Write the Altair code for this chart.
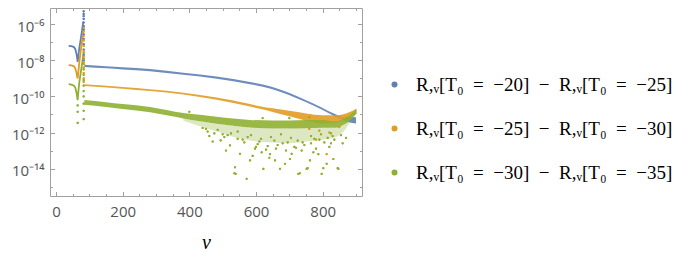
import altair as alt
import pandas as pd

# ---------------- data (log10 of the plotted values) -------------
SERIES = [
    "R,ᵥ[T₀\u2002=\u2002−20]\u2002−\u2002R,ᵥ[T₀\u2002=\u2002−25]",
    "R,ᵥ[T₀\u2002=\u2002−25]\u2002−\u2002R,ᵥ[T₀\u2002=\u2002−30]",
    "R,ᵥ[T₀\u2002=\u2002−30]\u2002−\u2002R,ᵥ[T₀\u2002=\u2002−35]",
]
COLORS = ["#5E81B5", "#E19C24", "#8FB032"]

# low-v segment (v < 85)
LEFT_V = [38, 46, 54, 58, 61, 63, 65, 67, 70, 74, 78, 82]
LEFT_BLUE = [-7.19, -7.21, -7.26, -7.38, -7.60, -7.80, -8.08, -7.75, -7.30, -6.85, -6.35, -5.85]
LEFT_ORANGE = [-8.26, -8.28, -8.33, -8.45, -8.65, -8.85, -9.00, -8.65, -8.10, -7.50, -6.95, -6.40]
LEFT_GREEN = [-9.32, -9.34, -9.40, -9.52, -9.75, -9.95, -10.20, -9.75, -9.20, -8.70, -8.20, -7.70]

# vertical column of dots at v ~ 83
SPIKE_V = 83
SPIKE_BLUE = [-5.28, -5.42, -5.55, -5.70, -5.90, -6.10, -6.30, -6.55, -6.80, -7.10, -7.40, -7.70, -8.00]
SPIKE_ORANGE = [-6.20, -6.40, -6.65, -6.90, -7.20, -7.50, -7.80, -8.10, -8.40, -8.70, -9.00, -9.20]
SPIKE_GREEN = [-7.60, -7.90, -8.20, -8.50, -8.80, -9.10, -9.40, -9.70, -10.00, -10.40, -10.80, -11.26]

# main dense bands (upper / lower edge)
BLUE_V = [85, 150, 200, 282, 382, 482, 582, 647, 697, 747, 797, 837, 862, 880, 900]
BLUE_HI = [-8.24, -8.32, -8.38, -8.48, -8.68, -8.90, -9.20, -9.46, -9.78, -10.18, -10.61, -10.97, -11.12, -11.12, -11.16]
BLUE_LO = [-8.36, -8.44, -8.50, -8.60, -8.80, -9.02, -9.32, -9.58, -9.90, -10.30, -10.73, -11.11, -11.32, -11.45, -11.50]

ORANGE_V = [85, 200, 282, 382, 482, 582, 612, 650, 700, 750, 800, 840, 870, 900]
ORANGE_HI = [-9.32, -9.47, -9.60, -9.79, -10.06, -10.42, -10.54, -10.66, -10.80, -10.94, -11.04, -11.04, -10.94, -10.70]
ORANGE_LO = [-9.42, -9.57, -9.70, -9.89, -10.18, -10.56, -10.68, -10.86, -11.10, -11.35, -11.50, -11.45, -11.25, -10.98]

GREEN_V = [85, 150, 200, 282, 382, 432, 482, 532, 582, 650, 700, 750, 800, 840, 860, 880, 902]
GREEN_HI = [-10.20, -10.32, -10.42, -10.58, -10.92, -11.02, -11.12, -11.22, -11.30, -11.33, -11.33, -11.30, -11.30, -11.38, -11.28, -11.05, -10.68]
GREEN_LO = [-10.46, -10.58, -10.70, -10.88, -11.22, -11.38, -11.52, -11.62, -11.72, -11.78, -11.78, -11.76, -11.74, -11.74, -11.60, -11.36, -10.95]

# sparse lower fringe of the green cloud
HALO_V = [382, 432, 482, 532, 582, 650, 700, 750, 800, 840, 860, 880]
HALO_HI = [-11.22, -11.38, -11.52, -11.62, -11.72, -11.78, -11.78, -11.76, -11.74, -11.74, -11.60, -11.36]
HALO_LO = [-11.35, -11.65, -11.95, -12.25, -12.45, -12.55, -12.60, -12.50, -12.40, -12.25, -12.00, -11.50]

# isolated dots
ORANGE_OUT_V = [780, 812, 820, 760, 850, 790, 730]
ORANGE_OUT = [-12.40, -13.20, -12.00, -11.80, -11.70, -11.90, -11.55]
GREEN_OUT_V = [65, 65, 65, 494, 522, 510, 537, 539, 572, 552, 582, 597, 622, 672, 702, 687, 727, 752,
               762, 797, 812, 847, 642, 657, 787, 832, 707, 737, 617, 772, 535, 732, 755, 802, 845,
               460, 470, 600, 630, 660, 690, 720, 780, 820, 860, 870, 590, 640, 560, 610, 680, 740,
               790, 830, 500, 450, 620, 700, 760, 400,
               440, 455, 475, 505, 515, 545, 565, 575, 605, 615, 635, 655, 665, 695, 715, 725, 745,
               765, 775, 805, 815, 825, 835, 855, 485, 525, 585, 645, 705, 765, 825, 545, 675, 795]
GREEN_OUT = [-10.50, -10.85, -11.47, -12.44, -12.72, -13.00, -13.93, -14.30, -14.57, -13.18, -13.55,
             -12.90, -14.02, -14.02, -13.47, -13.74, -14.30, -14.02, -13.55, -14.30, -13.74, -14.02,
             -13.20, -13.55, -13.20, -13.47, -13.18, -13.00, -13.10, -13.10, -14.26, -14.26, -13.98,
             -13.98, -13.98, -12.20, -12.50, -12.80, -12.95, -12.90, -13.00, -12.85, -12.90, -12.80,
             -12.60, -12.30, -13.30, -13.40, -12.40, -12.50, -12.60, -12.55, -12.40, -12.20, -12.10,
             -11.80, -11.20, -11.20, -11.15, -10.85,
             -11.75, -11.95, -12.05, -12.25, -12.15, -12.35, -12.55, -12.25, -12.65, -12.35, -12.75,
             -12.45, -12.70, -12.55, -12.80, -12.45, -12.70, -12.60, -12.35, -12.55, -12.30, -12.60,
             -12.40, -12.15, -11.85, -12.05, -12.15, -12.25, -12.30, -12.20, -12.05, -11.95, -12.10,
             -12.10]

X_TICKS = [0, 200, 400, 600, 800]
X_MINOR = [0, 50, 100, 150, 200, 250, 300, 350, 400, 450, 500, 550, 600, 650, 700, 750, 800, 850, 900]
Y_EXP = [-6, -8, -10, -12, -14]
Y_LABELS = ["10⁻⁶", "10⁻⁸", "10⁻¹⁰", "10⁻¹²", "10⁻¹⁴"]
Y_MINOR_EXP = [-6, -7, -8, -9, -10, -11, -12, -13, -14, -15]

# ---------------- tables ----------------
def pw(e):
    return 10.0 ** e

left_rows, band_rows, dot_rows = [], [], []
for s, vals in zip(SERIES, [LEFT_BLUE, LEFT_ORANGE, LEFT_GREEN]):
    for v, e in zip(LEFT_V, vals):
        left_rows.append({"v": v, "r": pw(e), "s": s})
for s, vs, hi, lo in zip(SERIES, [BLUE_V, ORANGE_V, GREEN_V], [BLUE_HI, ORANGE_HI, GREEN_HI],
                         [BLUE_LO, ORANGE_LO, GREEN_LO]):
    for v, a, b in zip(vs, hi, lo):
        band_rows.append({"v": v, "hi": pw(a), "lo": pw(b), "s": s})
halo_rows = [{"v": v, "hi": pw(a), "lo": pw(b), "s": SERIES[2]} for v, a, b in zip(HALO_V, HALO_HI, HALO_LO)]
for s, vals in zip(SERIES, [SPIKE_BLUE, SPIKE_ORANGE, SPIKE_GREEN]):
    for e in vals:
        dot_rows.append({"v": SPIKE_V, "r": pw(e), "s": s})
for v, e in zip(ORANGE_OUT_V, ORANGE_OUT):
    dot_rows.append({"v": v, "r": pw(e), "s": SERIES[1]})
for v, e in zip(GREEN_OUT_V, GREEN_OUT):
    dot_rows.append({"v": v, "r": pw(e), "s": SERIES[2]})

left_df = pd.DataFrame(left_rows)
band_df = pd.DataFrame(band_rows)
halo_df = pd.DataFrame(halo_rows)
dot_df = pd.DataFrame(dot_rows)
dummy = pd.DataFrame({"v": [100], "r": [1e-10]})

# ---------------- scales & axes ----------------
W, H = 312, 188
FRAME = "#a0a0a0"
LABEL = "#555555"
xs = alt.Scale(domain=[-18, 918], nice=False, zero=False)
ys = alt.Scale(type="log", domain=[pw(-15.522), pw(-5.094)], nice=False)
cs = alt.Scale(domain=SERIES, range=COLORS)

label_expr = " : ".join(
    f"datum.value > {pw(e - 0.5):.4e} ? '{lab}'" for e, lab in zip(Y_EXP, Y_LABELS)
) + " : ''"

ax_x = alt.Axis(orient="bottom", values=X_TICKS, ticks=False, tickSize=0, domain=False, grid=False,
                labelFont="Open Sans", labelFontSize=15, labelColor=LABEL, labelPadding=8,
                labelFlush=False, title="v", titleFont="Liberation Serif", titleFontStyle="italic",
                titleFontWeight="normal", titleFontSize=20, titleColor="black",
                titleBaseline="alphabetic", titleY=52)
ax_y = alt.Axis(orient="left", values=[pw(e) for e in Y_EXP], labelExpr=label_expr, ticks=False,
                tickSize=0, domain=False, grid=False, labelFont="Open Sans", labelFontSize=15,
                labelColor=LABEL, labelPadding=6, labelFlush=False, labelOffset=2, title=None)

x_test = "datum.value % 200 === 0"
y_test = "abs(round(log(datum.value) / LN10)) % 2 === 0"


def tick_axis(orient, offset, values, test):
    return alt.Axis(orient=orient, offset=offset, values=values, labels=False, domain=False,
                    grid=False, title=None, ticks=True, tickColor=FRAME, tickWidth=1,
                    tickSize={"condition": {"test": test, "value": 4.5}, "value": 2.5})


y_minor_vals = [pw(e) for e in Y_MINOR_EXP]
legend = alt.Legend(
    title=None, orient="none", legendX=335, legendY=67, symbolType="circle",
    symbolSize=36, symbolStrokeWidth=0, labelFont="Liberation Serif", labelFontSize=19,
    labelFontWeight="normal", labelColor="black", rowPadding=24, labelOffset=12, padding=0,
    labelLimit=400)

# ---------------- layers ----------------
# first layer carries the axes with labels and the legend
dots_first = alt.Chart(dot_df).mark_circle(size=5, opacity=1).encode(
    x=alt.X("v:Q", scale=xs, axis=ax_x),
    y=alt.Y("r:Q", scale=ys, axis=ax_y),
    color=alt.Color("s:N", scale=cs, legend=legend),
)
lines = alt.Chart(left_df).mark_line(strokeWidth=1.8).encode(
    x=alt.X("v:Q", scale=xs, axis=None),
    y=alt.Y("r:Q", scale=ys, axis=None),
    color=alt.Color("s:N", scale=cs, legend=None),
    detail="s:N",
)
bands = alt.Chart(band_df).mark_area(interpolate="monotone", opacity=0.9).encode(
    x=alt.X("v:Q", scale=xs, axis=None),
    y=alt.Y("lo:Q", scale=ys, axis=None),
    y2="hi:Q",
    color=alt.Color("s:N", scale=cs, legend=None),
)
halo = alt.Chart(halo_df).mark_area(interpolate="monotone", opacity=0.3).encode(
    x=alt.X("v:Q", scale=xs, axis=None),
    y=alt.Y("lo:Q", scale=ys, axis=None),
    y2="hi:Q",
    color=alt.Color("s:N", scale=cs, legend=None),
)
dots_top = alt.Chart(dot_df).mark_circle(size=5, opacity=1).encode(
    x=alt.X("v:Q", scale=xs, axis=None),
    y=alt.Y("r:Q", scale=ys, axis=None),
    color=alt.Color("s:N", scale=cs, legend=None),
)

ticks_b = alt.Chart(dummy).mark_point(opacity=0).encode(
    x=alt.X("v:Q", scale=xs, axis=tick_axis("top", -H, X_MINOR, x_test)),
    y=alt.Y("r:Q", scale=ys, axis=tick_axis("right", -W, y_minor_vals, y_test)),
)
ticks_c = alt.Chart(dummy).mark_point(opacity=0).encode(
    x=alt.X("v:Q", scale=xs, axis=tick_axis("bottom", -H, X_MINOR, x_test)),
    y=alt.Y("r:Q", scale=ys, axis=tick_axis("left", -W, y_minor_vals, y_test)),
)

chart = alt.layer(dots_first, lines, bands, halo, dots_top, ticks_b, ticks_c).resolve_axis(
    x="independent", y="independent"
).properties(
    width=W, height=H,
    autosize=alt.AutoSizeParams(type="none"),
    padding={"left": 42, "top": 0, "right": 317, "bottom": 55},
    background="white",
).configure_view(stroke=FRAME, strokeWidth=1)

chart.save("out.html", embed_options={"renderer": "svg", "actions": False})
